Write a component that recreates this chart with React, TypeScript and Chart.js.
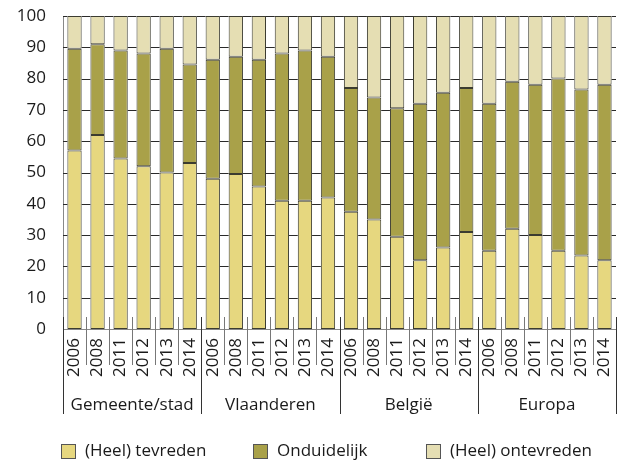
import { useEffect, useRef } from 'react';
import { Chart, registerables } from 'chart.js';

Chart.register(...registerables);

const years = ['2006', '2008', '2011', '2012', '2013', '2014'];
const groups = ['Gemeente/stad', 'Vlaanderen', 'België', 'Europa'];

const tevreden = [57, 62, 54.5, 52, 50, 53, 48, 49.5, 45.5, 41, 41, 42, 37.5, 35, 29.5, 22, 26, 31, 25, 32, 30, 25, 23.5, 22];
const onduidelijk = [32.5, 29, 34.5, 36, 39.5, 31.5, 38, 37.5, 40.5, 47, 48, 45, 39.5, 39, 41, 50, 49.5, 46, 47, 47, 48, 55, 53, 56];
const ontevreden = [10.5, 9, 11, 12, 10.5, 15.5, 14, 13, 14, 12, 11, 13, 23, 26, 29.5, 28, 24.5, 23, 28, 21, 22, 20, 23.5, 22];

const seriesNames = ['(Heel) tevreden', 'Onduidelijk', '(Heel) ontevreden'];
const seriesColors = ['#E6D77F', '#A9A149', '#E5DEB3'];
const yTickStep = 10;
const yMax = 100;

const FONT = "'Open Sans', sans-serif";
const TEXT = '#1a1a1a';

const groupPlugin = {
  id: 'groupAxis',
  afterDraw(chart: any) {
    const ctx = chart.ctx as CanvasRenderingContext2D;
    const x = chart.scales.x;
    const y = chart.scales.y;
    const area = chart.chartArea;
    const n = chart.data.labels.length;
    const step = x.getPixelForValue(1) - x.getPixelForValue(0);
    const axisY = Math.round(y.getPixelForValue(0));
    ctx.save();
    // gridlines in the gaps between the bars
    const bars = chart.getDatasetMeta(0).data;
    const half = (bars[0] && bars[0].width ? bars[0].width : step * 0.62) / 2;
    ctx.lineWidth = 1;
    ctx.strokeStyle = '#2a2a2a';
    for (let v = yTickStep; v <= yMax; v += yTickStep) {
      const py = Math.round(y.getPixelForValue(v)) + 0.5;
      let prev = area.left;
      for (let i = 0; i < n; i++) {
        const cx = x.getPixelForValue(i);
        ctx.beginPath();
        ctx.moveTo(prev, py);
        ctx.lineTo(cx - half, py);
        ctx.stroke();
        prev = cx + half;
      }
      ctx.beginPath();
      ctx.moveTo(prev, py);
      ctx.lineTo(area.right, py);
      ctx.stroke();
    }
    // category separators
    for (let i = 0; i <= n; i++) {
      const px = Math.round(x.getPixelForValue(i) - step / 2) + 0.5;
      const isGroup = i % years.length === 0;
      ctx.strokeStyle = isGroup ? '#333' : '#777';
      ctx.beginPath();
      ctx.moveTo(px, axisY - 12);
      ctx.lineTo(px, axisY + (isGroup ? 85 : 36));
      ctx.stroke();
    }
    ctx.fillStyle = TEXT;
    ctx.font = `17px ${FONT}`;
    ctx.textAlign = 'center';
    ctx.textBaseline = 'middle';
    groups.forEach((g, gi) => {
      const a = x.getPixelForValue(gi * years.length);
      const b = x.getPixelForValue(gi * years.length + years.length - 1);
      ctx.fillText(g, (a + b) / 2, axisY + 76);
    });
    const legendX = [61, 253, 426];
    const ly = 444;
    ctx.textAlign = 'left';
    seriesNames.forEach((name, i) => {
      ctx.fillStyle = seriesColors[i];
      ctx.fillRect(legendX[i], ly, 14, 14);
      ctx.strokeStyle = '#555';
      ctx.strokeRect(legendX[i] + 0.5, ly + 0.5, 14, 14);
      ctx.fillStyle = TEXT;
      ctx.fillText(name, legendX[i] + 24, ly + 7);
    });
    ctx.restore();
  },
};

export default function App() {
  const ref = useRef<HTMLCanvasElement>(null);
  useEffect(() => {
    if (!ref.current) return;
    const labels = groups.flatMap(() => years);
    const values = [tevreden, onduidelijk, ontevreden];
    const chart = new Chart(ref.current, {
      type: 'bar',
      data: {
        labels,
        datasets: seriesNames.map((name, i) => ({
          label: name,
          data: values[i],
          backgroundColor: seriesColors[i],
          borderColor: '#3c3c30',
          borderWidth: 1,
          borderSkipped: false,
          barPercentage: 0.62,
          categoryPercentage: 1,
        })),
      },
      options: {
        responsive: false,
        animation: false,
        devicePixelRatio: 1,
        layout: { padding: { top: 16, right: 3, left: 0, bottom: 0 } },
        plugins: { legend: { display: false }, tooltip: { enabled: false } },
        scales: {
          x: {
            stacked: true,
            grid: { display: false, drawTicks: false },
            border: { display: true, color: '#888' },
            ticks: {
              autoSkip: false,
              maxRotation: 90,
              minRotation: 90,
              padding: 9,
              color: TEXT,
              font: { family: FONT, size: 17 },
            },
            afterFit(scale: any) {
              scale.height = 135;
              scale.paddingLeft = 0;
              scale.paddingRight = 0;
            },
          },
          y: {
            stacked: true,
            min: 0,
            max: yMax,
            ticks: {
              stepSize: yTickStep,
              padding: 17,
              color: TEXT,
              font: { family: FONT, size: 17 },
            },
            grid: { display: false, drawTicks: false },
            border: { display: true, color: '#888' },
            afterFit(scale: any) {
              scale.width = 63;
              scale.paddingTop = 0;
              scale.paddingBottom = 0;
            },
          },
        },
      },
      plugins: [groupPlugin],
    });
    return () => chart.destroy();
  }, []);
  return (
    <div style={{ position: 'fixed', left: 0, top: 0, width: 619, height: 464, background: '#fff' }}>
      <canvas ref={ref} width={619} height={464} style={{ width: 619, height: 464 }} />
    </div>
  );
}
